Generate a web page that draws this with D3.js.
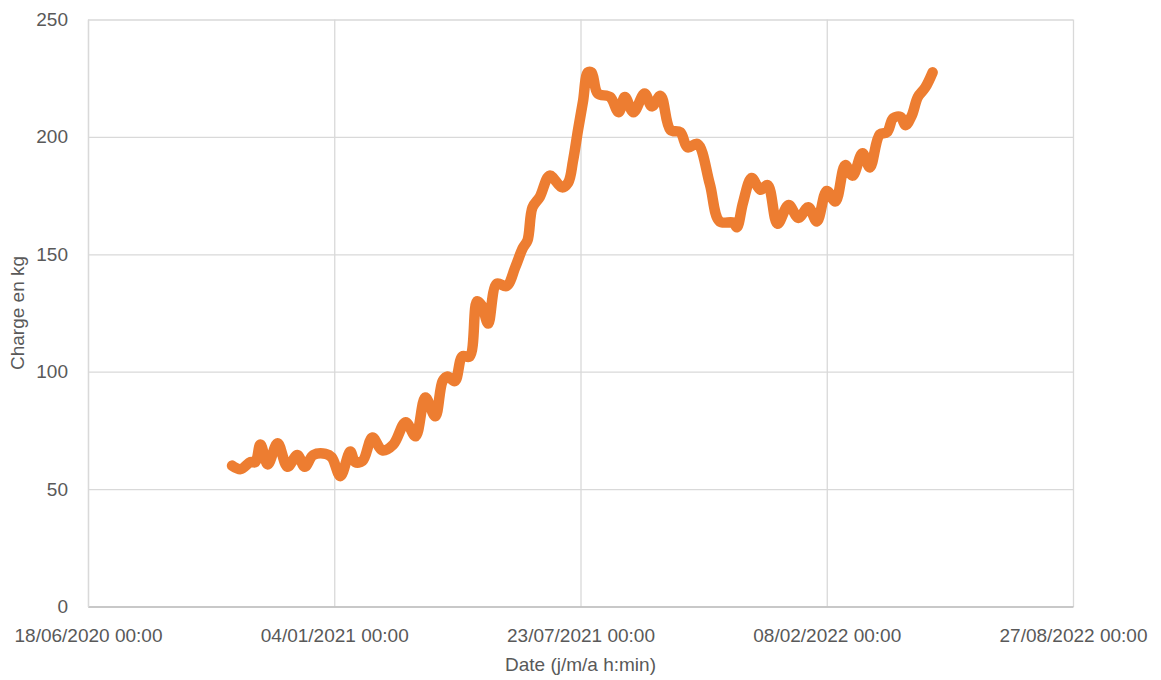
<!DOCTYPE html>
<html>
<head>
<meta charset="utf-8">
<script src="https://cdn.jsdelivr.net/npm/d3@7"></script>
<style>
  html, body { margin: 0; padding: 0; background: #ffffff; }
  svg { display: block; }
  text { font-family: "Liberation Sans", Arial, sans-serif; fill: #595959; }
</style>
</head>
<body>
<svg id="chart" width="1161" height="680"></svg>
<script>
// ---- Data ----
const dates = [
  "2020-10-13","2020-10-20","2020-10-28","2020-11-01","2020-11-05","2020-11-11","2020-11-19","2020-11-27",
  "2020-12-05","2020-12-11","2020-12-18","2020-12-28","2021-01-02","2021-01-09","2021-01-17","2021-01-21",
  "2021-01-27","2021-02-04","2021-02-12","2021-02-21","2021-03-03","2021-03-11","2021-03-19","2021-03-27",
  "2021-04-02","2021-04-06","2021-04-12","2021-04-18","2021-04-24","2021-04-30","2021-05-04","2021-05-09",
  "2021-05-16","2021-05-24","2021-05-31","2021-06-06","2021-06-10","2021-06-14","2021-06-20","2021-06-28",
  "2021-07-08","2021-07-13","2021-07-17","2021-07-21","2021-07-25","2021-07-29","2021-08-01","2021-08-06",
  "2021-08-16","2021-08-23","2021-08-28","2021-09-04","2021-09-13","2021-09-19","2021-09-26","2021-10-04",
  "2021-10-12","2021-10-18","2021-10-26","2021-11-05","2021-11-13","2021-11-24","2021-11-27","2021-12-02",
  "2021-12-09","2021-12-16","2021-12-22","2021-12-30","2022-01-08","2022-01-16","2022-01-24","2022-01-31",
  "2022-02-08","2022-02-15","2022-02-23","2022-03-01","2022-03-09","2022-03-15","2022-03-23","2022-03-29",
  "2022-04-03","2022-04-09","2022-04-13","2022-04-18","2022-04-23","2022-04-29","2022-05-05"
];
const chargeKg = [
  60, 58.5, 61.5, 61.5, 69, 60.5, 69.5, 59.5,
  64.5, 59.5, 64.5, 65, 63.5, 55.5, 66, 61.5,
  62, 72, 66.5, 69, 78.5, 72.5, 89, 81,
  96, 98, 96, 106.5, 106.5, 130, 128, 120.5,
  137.5, 136.5, 144.5, 152.5, 156, 170, 174.5, 183.5,
  178.5, 180.5, 190, 203, 215, 227.5, 227.5, 218.5,
  217, 210.5, 217, 210.5, 218.5, 213, 217.5, 203,
  202, 195.5, 197, 180, 164, 163.5, 161.5, 172,
  182.5, 177.5, 179.5, 163, 171, 165.5, 170, 164,
  177, 172.5, 188, 183.5, 193, 187, 201, 202,
  208, 208.5, 205, 209, 217, 221, 227.5
];
const xTickDates = ["2020-06-18","2021-01-04","2021-07-23","2022-02-08","2022-08-27"];
const yTicks = [0, 50, 100, 150, 200, 250];
const xTitle = "Date (j/m/a h:min)";
const yTitle = "Charge en kg";

// ---- Layout ----
const margin = { left: 88, right: 88, top: 19.5, bottom: 73 };
const W = 1161, H = 680;
const svg = d3.select("#chart");
const parse = d3.utcParse("%Y-%m-%d");
const fmt = d3.utcFormat("%d/%m/%Y %H:%M");

const data = dates.map((d, i) => ({ date: parse(d), v: chargeKg[i] }));
const xTicks = xTickDates.map(parse);

const x = d3.scaleUtc()
  .domain([xTicks[0], xTicks[xTicks.length - 1]])
  .range([margin.left, W - margin.right]);
const y = d3.scaleLinear()
  .domain([0, 250])
  .range([H - margin.bottom - 0.5, margin.top]);

// Grid lines (horizontal)
svg.append("g")
  .attr("transform", `translate(${margin.left},0)`)
  .call(d3.axisLeft(y).tickValues(yTicks).tickSize(-(W - margin.left - margin.right)).tickFormat(""))
  .call(g => g.select(".domain").remove())
  .call(g => g.selectAll("line").attr("stroke", "#d9d9d9").attr("stroke-width", 1.3));

// Grid lines (vertical)
svg.append("g")
  .attr("transform", `translate(0,${margin.top})`)
  .call(d3.axisBottom(x).tickValues(xTicks).tickSize(H - margin.bottom - margin.top).tickFormat(""))
  .call(g => g.select(".domain").remove())
  .call(g => g.selectAll("line").attr("stroke", "#d9d9d9").attr("stroke-width", 1.3));

// Bottom axis
svg.append("g")
  .attr("transform", `translate(0,${y(0)})`)
  .call(d3.axisBottom(x).tickValues(xTicks).tickSize(0).tickFormat(fmt).tickPadding(22))
  .call(g => g.select(".domain").attr("stroke", "#bfbfbf").attr("stroke-width", 1.3))
  .call(g => g.selectAll("text").attr("font-size", 19).attr("fill", "#595959")
                .attr("font-family", "Liberation Sans, Arial, sans-serif"));

// Left axis labels
svg.append("g")
  .attr("transform", `translate(${margin.left},0)`)
  .call(d3.axisLeft(y).tickValues(yTicks).tickSize(0).tickPadding(20))
  .call(g => g.select(".domain").attr("stroke", "#d9d9d9").attr("stroke-width", 1.3))
  .call(g => g.selectAll("text").attr("font-size", 19).attr("fill", "#595959")
                .attr("font-family", "Liberation Sans, Arial, sans-serif"));

// Line
const line = d3.line()
  .x(d => x(d.date))
  .y(d => y(d.v))
  .curve(d3.curveCatmullRom.alpha(0.5));

svg.append("path")
  .datum(data)
  .attr("fill", "none")
  .attr("stroke", "#ED7D31")
  .attr("stroke-width", 10.5)
  .attr("stroke-linejoin", "round")
  .attr("stroke-linecap", "round")
  .attr("d", line);

// Axis titles
svg.append("text")
  .attr("x", (margin.left + W - margin.right) / 2)
  .attr("y", 671)
  .attr("text-anchor", "middle")
  .attr("font-size", 19)
  .text(xTitle);

svg.append("text")
  .attr("transform", `translate(24,${(margin.top + y(0)) / 2}) rotate(-90)`)
  .attr("text-anchor", "middle")
  .attr("font-size", 19)
  .text(yTitle);
</script>
</body>
</html>
